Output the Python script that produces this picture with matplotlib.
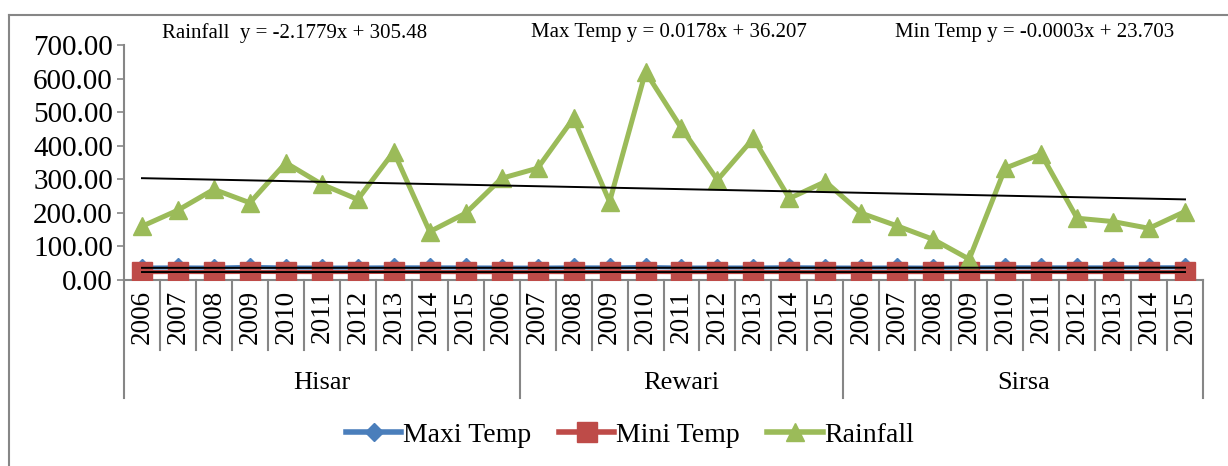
import matplotlib
matplotlib.use("Agg")
import matplotlib.pyplot as plt
from matplotlib.lines import Line2D
from matplotlib.transforms import blended_transform_factory
import numpy as np

plt.rcParams['font.family'] = ['Liberation Serif', 'DejaVu Serif']

# ---- data -------------------------------------------------------------
districts = ["Hisar", "Rewari", "Sirsa"]
district_sizes = [11, 9, 10]
years = ["2006", "2007", "2008", "2009", "2010", "2011", "2012", "2013", "2014", "2015", "2006",
         "2007", "2008", "2009", "2010", "2011", "2012", "2013", "2014", "2015",
         "2006", "2007", "2008", "2009", "2010", "2011", "2012", "2013", "2014", "2015"]

rainfall = [160, 208, 270, 230, 349, 285, 240, 382, 144, 199, 303,
            333, 482, 233, 620, 452, 298, 422, 243, 293,
            199, 161, 121, 62, 333, 375, 184, 174, 154, 204]
max_temp = [37.0, 37.4, 36.8, 38.9, 37.2, 36.9, 37.1, 37.6, 37.5, 37.3, 37.0,
            36.8, 37.5, 37.3, 38.6, 37.0, 37.2, 37.1, 37.9, 37.2,
            36.9, 37.3, 36.7, 37.4, 37.8, 37.6, 37.5, 37.5, 37.7, 37.8]
min_temp = [23.4, 23.9, 23.5, 24.1, 23.8, 23.6, 23.9, 24.2, 23.7, 23.5, 23.6,
            23.8, 23.4, 23.9, 24.0, 23.5, 23.7, 23.8, 23.6, 23.4,
            23.9, 23.6, 23.5, 23.8, 23.7, 24.0, 23.6, 23.7, 23.5, 23.9]

# linear trend coefficients (slope, intercept)
trend_rain = (-2.1779, 305.48)
trend_max = (0.0178, 36.207)
trend_min = (-0.0003, 23.703)

y_ticks = [0, 100, 200, 300, 400, 500, 600, 700]
y_tick_labels = ["0.00", "100.00", "200.00", "300.00", "400.00", "500.00", "600.00", "700.00"]

# ---- figure -----------------------------------------------------------
W, H = 1228, 466
fig = plt.figure(figsize=(W / 100, H / 100), dpi=100)
ax = fig.add_axes([124 / W, 1 - 280 / H, (1203 - 124) / W, (280 - 45) / H])

blue, red, green = "#4A7EBB", "#BE4B48", "#9BBB59"
grey = "#868686"

x = np.arange(1, len(years) + 1)
ax.plot(x, max_temp, color=blue, lw=3, marker="D", ms=9.5, zorder=3, label="Maxi Temp")
ax.plot(x, min_temp, color=red, lw=3, marker="s", ms=14.5, zorder=4, label="Mini Temp")
ax.plot(x, rainfall, color=green, lw=3.6, marker="^", ms=13.5, zorder=5, label="Rainfall")

for slope, icpt in (trend_rain, trend_max, trend_min):
    xs = np.array([x[0], x[-1]])
    ax.plot(xs, slope * xs + icpt, color="black", lw=1.4, zorder=6)

ax.set_xlim(0.5, len(years) + 0.5)
ax.set_ylim(0, 700)
ax.set_yticks(y_ticks)
ax.set_yticklabels(y_tick_labels, fontsize=21)
ax.tick_params(axis="y", direction="out", length=5, width=1.2, color=grey, pad=3)
ax.set_xticks([])

for side in ("top", "right"):
    ax.spines[side].set_visible(False)
for side in ("left", "bottom"):
    ax.spines[side].set_color(grey)
    ax.spines[side].set_linewidth(1.5)

# category axis: year labels, dividers and district labels
tr = blended_transform_factory(ax.transData, ax.transAxes)
for xi, yr in zip(x, years):
    ax.text(xi, -0.043, yr, transform=tr, rotation=90, ha="center", va="top", fontsize=19.5)
bounds = np.cumsum([0] + district_sizes) + 0.5
for b in np.arange(0.5, len(years) + 1):
    deep = b in bounds
    ax.plot([b, b], [0, -0.502 if deep else -0.298], transform=tr, color=grey,
            lw=1.5, clip_on=False)
for name, lo, hi in zip(districts, bounds[:-1], bounds[1:]):
    ax.text((lo + hi) / 2, -0.438, name, transform=tr, ha="center", va="center", fontsize=19)

# trend equations
eq_y = 1 - 33 / H
fig.text(162 / W, eq_y, "Rainfall  y = -2.1779x + 305.48", fontsize=15, va="center")
fig.text(531 / W, eq_y, "Max Temp y = 0.0178x + 36.207", fontsize=15, va="center")
fig.text(895 / W, eq_y, "Min Temp y = -0.0003x + 23.703", fontsize=15, va="center")

# legend
leg = fig.legend(loc="center", bbox_to_anchor=(630 / W, 1 - 435 / H), ncol=3, frameon=False,
                 fontsize=20, handlelength=2.0, handletextpad=0.05, columnspacing=1.0)
for h in leg.legend_handles:
    h.set_linewidth(4)

# chart area border
fig.add_artist(Line2D([9 / W, 1.0], [1 - 15 / H, 1 - 15 / H], color=grey, lw=1.5))
fig.add_artist(Line2D([9 / W, 9 / W], [0, 1 - 15 / H], color=grey, lw=1.5))

fig.savefig("out.png", dpi=100)
